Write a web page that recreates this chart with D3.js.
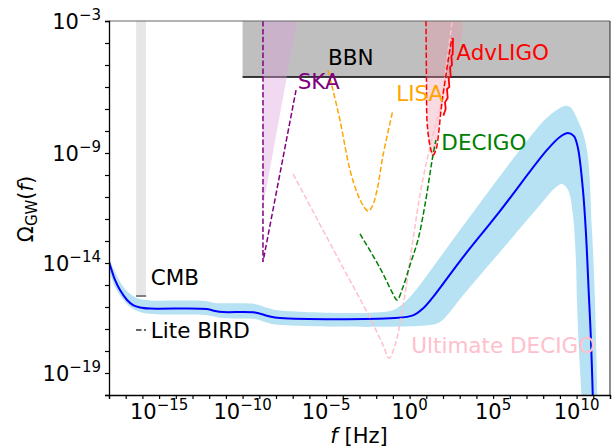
<!DOCTYPE html>
<html>
<head>
<meta charset="utf-8">
<script src="https://cdn.jsdelivr.net/npm/d3@7"></script>
<style>
  html, body { margin: 0; padding: 0; background: #fff; }
  svg { display: block; font-family: "DejaVu Sans", sans-serif; }
</style>
</head>
<body>
<svg id="chart" width="613" height="447"></svg>
<script>
// ---- Data (log10 f [Hz], log10 Omega_GW) ----
const xDecades = d3.range(-18, 13);            // x ticks (every decade)
const xLabelExps = [-15, -10, -5, 0, 5, 10];   // labelled x ticks
const yDecades = d3.range(-20, -2);
const yLabelExps = [-3, -9, -14, -19];

const modelCurve = [[-18,-13.95],[-17.94,-14.09],[-17.64,-14.77],[-17.34,-15.23],[-16.92,-15.68],[-16.56,-15.91],[-16.14,-16.02],[-15.54,-16.07],[-12.13,-16.09],[-11.65,-16.18],[-11.17,-16.23],[-9.26,-16.25],[-8.48,-16.41],[-7.76,-16.5],[-0.9,-16.5],[0.2,-16.38],[0.8,-16.07],[1.40,-15.55],[3.02,-13.91],[5.41,-11.64],[8.23,-8.86],[9.0,-8.27],[9.49,-8.09],[9.84,-8.23],[10.08,-8.77],[10.38,-10.68],[10.56,-12.64],[10.74,-15.55],[10.86,-17.5],[10.98,-20.3]];
const bandUpper = [[-18.1,-13.5],[-18,-13.77],[-17.64,-14.41],[-17.22,-15.0],[-16.74,-15.41],[-16.14,-15.64],[-15.54,-15.70],[-12.25,-15.73],[-11.65,-15.82],[-9.26,-15.86],[-8.48,-16.05],[-7.76,-16.16],[-1.17,-16.18],[-0.57,-15.95],[0.02,-15.55],[3.02,-12.5],[6.61,-8.86],[8.41,-7.27],[9.49,-6.86],[10.2,-7.73],[10.62,-8.86],[10.92,-12.5],[11.1,-15.68],[11.25,-20.3]];
const bandLower = [[-18.1,-14.0],[-18,-14.32],[-17.64,-15.09],[-17.22,-15.59],[-16.74,-16.0],[-16.14,-16.23],[-15.54,-16.32],[-12.25,-16.36],[-11.17,-16.5],[-9.26,-16.55],[-8.48,-16.73],[-7.76,-16.82],[1.22,-16.82],[1.82,-16.68],[2.42,-16.23],[3.02,-15.64],[5.41,-13.5],[7.81,-11.36],[8.71,-10.59],[9.13,-10.41],[9.49,-10.68],[9.78,-11.82],[9.96,-13.86],[10.02,-15.68],[10.14,-17.95],[10.32,-20.3]];

const bbnBox = { f: [-10, 12.5], omega: [-5.55, -2.5] };
const cmbBand = { f: [-16.38, -15.78], omega: [-15.5, -3] };
const cmbLimit = [[-16.38,-15.5],[-15.78,-15.5]];
const liteBird = [[-16.38,-17.05],[-15.78,-17.05]];

const skaCurve = [[-8.78,-3],[-8.78,-13.95],[-6.80,-6.14]];
const skaWedge = [[-8.78,-3],[-6.74,-3],[-8.78,-11.45]];

const lisaCurve = [[-4.89,-5.23],[-4.59,-6.14],[-4.17,-7.5],[-3.57,-9.77],[-3.09,-10.91],[-2.73,-11.45],[-2.49,-11.64],[-2.25,-11.45],[-1.95,-10.68],[-1.59,-9.1],[-1.0,-7.05]];
const decigoCurve = [[-2.97,-12.68],[-1.77,-14.23],[-1.05,-15.32],[-0.75,-15.68],[-0.40,-15.1],[0.02,-14.1],[0.50,-12.95],[0.92,-11.36],[1.40,-9.09],[1.58,-8.41]];
const ultDecigoCurve = [[-6.98,-9.95],[-4.17,-13.95],[-2.37,-16.5],[-1.59,-17.73],[-1.23,-18.32],[-0.87,-17.73],[-0.40,-16.0],[0.20,-12.95],[0.62,-10.91],[1.04,-9.32],[1.40,-8.18],[1.64,-7.5],[1.94,-6.5],[2.24,-4.77],[2.54,-3.05]];

const ligoRegion = [[0.98,-3],[3.08,-3],[2.42,-5.55],[1.88,-7.27],[1.52,-9.09],[1.40,-9.25],[1.22,-8.86],[1.04,-7.5],[0.98,-5.68]];
const advLigoCurve = [[0.98,-3],[1.01,-5.68],[1.04,-7.5],[1.16,-8.41],[1.28,-8.86],[1.40,-9.09],[1.58,-8.86],[1.76,-7.95],[1.88,-7.05],[2.0,-6.36],[2.18,-5.45],[2.36,-4.55],[2.54,-3.77]];
const ligoData = [[2.60,-3.77],[2.58,-4.5],[2.50,-4.6],[2.54,-5.0],[2.42,-5.1],[2.46,-5.5],[2.34,-5.6],[2.38,-6.0],[2.24,-6.1],[2.28,-6.5],[2.12,-6.7],[2.16,-7.0],[2.02,-7.3]];

const labels = [
  { text: "BBN", f: -4.89, o: -5.0, color: "#000" },
  { text: "SKA", f: -6.7, o: -6.1, color: "#800080" },
  { text: "LISA", f: -0.8, o: -6.65, color: "#ffa500" },
  { text: "AdvLIGO", f: 2.8, o: -4.75, color: "#ff0000" },
  { text: "DECIGO", f: 1.9, o: -8.85, color: "#008000" },
  { text: "CMB", f: -15.5, o: -15.0, color: "#000" },
  { text: "Lite BIRD", f: -15.5, o: -17.4, color: "#000" },
  { text: "Ultimate DECIGO", f: 0.1, o: -18.1, color: "#ffc0cb" }
];

// ---- Scales ----
const P = v => Math.pow(10, v);
const x = d3.scaleLog().domain([1e-18, 1e12]).range([109, 610]);
const y = d3.scaleLog().domain([1e-20, 1e-3]).range([395, 21]);
const X = v => x(P(v)), Y = v => y(P(v));

const svg = d3.select("#chart");
svg.append("defs").append("clipPath").attr("id", "clip")
  .append("rect").attr("x", 109).attr("y", 21).attr("width", 501).attr("height", 374);
const g = svg.append("g").attr("clip-path", "url(#clip)");

const lineLin = d3.line().x(d => X(d[0])).y(d => Y(d[1]));
const lineSmooth = d3.line().x(d => X(d[0])).y(d => Y(d[1])).curve(d3.curveCatmullRom.alpha(0.5));

// BBN
g.append("rect")
  .attr("x", X(bbnBox.f[0])).attr("y", Y(bbnBox.omega[1]))
  .attr("width", X(bbnBox.f[1]) - X(bbnBox.f[0]))
  .attr("height", Y(bbnBox.omega[0]) - Y(bbnBox.omega[1]))
  .attr("fill", "#808080").attr("fill-opacity", 0.5);
g.append("path").attr("d", lineLin([[bbnBox.f[0], bbnBox.omega[0]], [bbnBox.f[1], bbnBox.omega[0]]]))
  .attr("stroke", "#000").attr("stroke-width", 1.5).attr("fill", "none");

// CMB band
g.append("rect")
  .attr("x", X(cmbBand.f[0])).attr("y", Y(cmbBand.omega[1]))
  .attr("width", X(cmbBand.f[1]) - X(cmbBand.f[0]))
  .attr("height", Y(cmbBand.omega[0]) - Y(cmbBand.omega[1]))
  .attr("fill", "#d3d3d3").attr("fill-opacity", 0.55);
g.append("path").attr("d", lineLin(cmbLimit)).attr("stroke", "#808080").attr("stroke-width", 2).attr("fill", "none");
g.append("path").attr("d", lineLin(liteBird)).attr("stroke", "#333").attr("stroke-width", 1.5)
  .attr("stroke-dasharray", "5.5,2.4").attr("fill", "none");

// model band + curve
const bandPath = lineSmooth(bandUpper) + lineSmooth(bandLower.slice().reverse()).replace(/^M/, "L") + "Z";
g.append("path").attr("d", bandPath).attr("fill", "#87ceeb").attr("fill-opacity", 0.6).attr("stroke", "none");
g.append("path").attr("d", lineSmooth(modelCurve)).attr("stroke", "#0000ff").attr("stroke-width", 2).attr("fill", "none");

// SKA wedge
g.append("path").attr("d", lineLin(skaWedge) + "Z").attr("fill", "#dda0dd").attr("fill-opacity", 0.4);
// LIGO region
g.append("path").attr("d", lineSmooth(ligoRegion) + "Z").attr("fill", "rgb(235,150,165)").attr("fill-opacity", 0.35);

const dash = "5.5,2.4";
function dashed(data, color, smooth) {
  g.append("path").attr("d", (smooth ? lineSmooth : lineLin)(data))
    .attr("stroke", color).attr("stroke-width", 1.5).attr("stroke-dasharray", dash).attr("fill", "none");
}
dashed(skaCurve, "#800080", false);
dashed(ultDecigoCurve, "#ffc0cb", true);
dashed(lisaCurve, "#ffa500", true);
dashed(decigoCurve, "#008000", true);
dashed(advLigoCurve, "#ff0000", true);
g.append("path").attr("d", lineLin(ligoData)).attr("stroke", "#ff0000").attr("stroke-width", 1.8).attr("fill", "none");

// labels
svg.selectAll("text.lbl").data(labels).enter().append("text")
  .attr("class", "lbl").attr("x", d => X(d.f)).attr("y", d => Y(d.o))
  .attr("fill", d => d.color).attr("font-size", 21.5).text(d => d.text);

// ---- Axes ----
const ax = svg.append("g");
ax.append("line").attr("x1", 109).attr("x2", 610).attr("y1", 21).attr("y2", 21).attr("stroke", "#666").attr("stroke-width", 1.2);
ax.append("line").attr("x1", 610).attr("x2", 610).attr("y1", 21).attr("y2", 395).attr("stroke", "#444").attr("stroke-width", 1.2);

const xAxis = d3.axisBottom(x).tickValues(xDecades.map(P)).tickSize(4).tickFormat(() => "");
const gx = svg.append("g").attr("transform", "translate(0,395)").call(xAxis);
const yAxis = d3.axisLeft(y).tickValues(yDecades.map(P)).tickSize(4).tickFormat(() => "");
const gy = svg.append("g").attr("transform", "translate(109,0)").call(yAxis);
[gx, gy].forEach(a => {
  a.select(".domain").attr("stroke", "#000").attr("stroke-width", 1.3);
  a.selectAll(".tick line").attr("stroke", "#000").attr("stroke-width", 1.2);
});

xLabelExps.forEach(e => {
  const t = svg.append("text").attr("x", X(e)).attr("y", 419).attr("text-anchor", "middle").attr("font-size", 21).attr("fill", "#000");
  t.append("tspan").text("10");
  t.append("tspan").attr("font-size", 15).attr("dy", -9).text(String(e).replace("-", "\u2212"));
});
yLabelExps.forEach(e => {
  const t = svg.append("text").attr("x", 101).attr("y", Y(e) + 8).attr("text-anchor", "end").attr("font-size", 21).attr("fill", "#000");
  t.append("tspan").text("10");
  t.append("tspan").attr("font-size", 15).attr("dy", -9).text(String(e).replace("-", "\u2212"));
});

// axis titles
const xt = svg.append("text").attr("x", 359).attr("y", 443).attr("text-anchor", "middle").attr("font-size", 21);
xt.append("tspan").attr("font-style", "italic").text("f");
xt.append("tspan").text(" [Hz]");
const yt = svg.append("text").attr("transform", "translate(33,209) rotate(-90)").attr("text-anchor", "middle").attr("font-size", 21);
yt.append("tspan").text("\u03A9");
yt.append("tspan").attr("font-size", 15).attr("dy", 4).text("GW");
yt.append("tspan").attr("dy", -4).text("(");
yt.append("tspan").attr("font-style", "italic").text("f");
yt.append("tspan").text(")");
</script>
</body>
</html>
